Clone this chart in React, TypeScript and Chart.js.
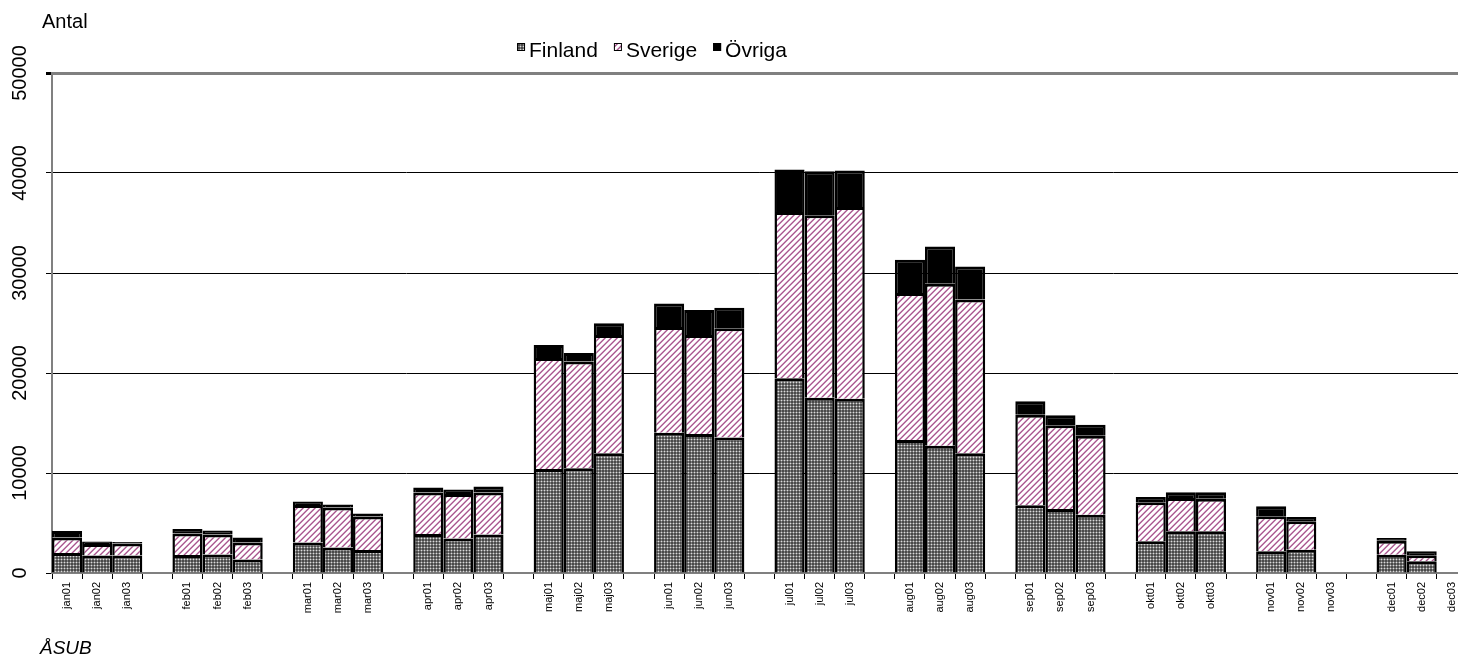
import React, { useEffect, useRef } from "react";
import { Chart, registerables } from "chart.js";

Chart.register(...registerables);

const categories = [
  "jan01", "jan02", "jan03", "",
  "feb01", "feb02", "feb03", "",
  "mar01", "mar02", "mar03", "",
  "apr01", "apr02", "apr03", "",
  "maj01", "maj02", "maj03", "",
  "jun01", "jun02", "jun03", "",
  "jul01", "jul02", "jul03", "",
  "aug01", "aug02", "aug03", "",
  "sep01", "sep02", "sep03", "",
  "okt01", "okt02", "okt03", "",
  "nov01", "nov02", "nov03", "",
  "dec01", "dec02", "dec03",
];

const finland = [
  2000, 1750, 1750, null,
  1800, 1850, 1350, null,
  3050, 2550, 2300, null,
  3900, 3450, 3850, null,
  10390, 10480, 11970, null,
  14020, 13890, 13560, null,
  19470, 17530, 17430, null,
  13290, 12730, 11970, null,
  6770, 6400, 5830, null,
  3170, 4170, 4170, null,
  2170, 2330, null, null,
  1830, 1170, null,
];

const sverige = [
  1550, 1150, 1200, null,
  2150, 2000, 1700, null,
  3750, 4000, 3350, null,
  4150, 4450, 4200, null,
  11110, 10680, 11840, null,
  10580, 9920, 10910, null,
  16640, 18250, 19170, null,
  14710, 16200, 15380, null,
  9060, 8370, 7900, null,
  3900, 3330, 3260, null,
  3500, 2840, null, null,
  1400, 600, null,
];

const ovriga = [
  650, 250, 150, null,
  450, 400, 500, null,
  350, 300, 300, null,
  500, 450, 600, null,
  1290, 830, 1160, null,
  2350, 2480, 2050, null,
  4230, 4400, 3640, null,
  3320, 3710, 3300, null,
  1340, 1000, 1100, null,
  530, 570, 640, null,
  1000, 430, null, null,
  270, 400, null,
];

const seriesNames = ["Finland", "Sverige", "Övriga"];
const yTicks = [0, 10000, 20000, 30000, 40000, 50000];
const yTitle = "Antal";
const sourceText = "ÅSUB";

const FONT = "Arial, 'Liberation Sans', sans-serif";

function makeFinlandPattern(): CanvasPattern | string {
  const c = document.createElement("canvas");
  c.width = 3;
  c.height = 3;
  const g = c.getContext("2d");
  if (!g) return "#666666";
  g.fillStyle = "#4a4a4a";
  g.fillRect(0, 0, 3, 3);
  g.fillStyle = "#7e7e7e";
  g.fillRect(1, 0, 1, 1);
  g.fillRect(0, 1, 1, 1);
  g.fillRect(2, 1, 1, 1);
  g.fillRect(1, 2, 1, 1);
  g.fillStyle = "#dadada";
  g.fillRect(1, 1, 1, 1);
  return g.createPattern(c, "repeat") || "#666666";
}

function makeSverigePattern(): CanvasPattern | string {
  const n = 6;
  const c = document.createElement("canvas");
  c.width = n;
  c.height = n;
  const g = c.getContext("2d");
  if (!g) return "#c890b4";
  for (let x = 0; x < n; x++) {
    for (let y = 0; y < n; y++) {
      const d = (x + y) % n;
      let col = "#ffffff";
      if (d === 0) col = "#a8588f";
      else if (d === 1) col = "#c993b8";
      else if (d === n - 1) col = "#e4c6da";
      g.fillStyle = col;
      g.fillRect(x, y, 1, 1);
    }
  }
  return g.createPattern(c, "repeat") || "#c890b4";
}

export default function App() {
  const ref = useRef<HTMLCanvasElement | null>(null);

  useEffect(() => {
    const canvas = ref.current;
    if (!canvas) return;
    const finPat = makeFinlandPattern();
    const svePat = makeSverigePattern();
    const fills = [finPat, svePat, "#000000"];

    const textPlugin = {
      id: "textPlugin",
      afterDraw(chart: any) {
        const ctx = chart.ctx as CanvasRenderingContext2D;
        const ys = chart.scales.y;
        ctx.save();
        ctx.fillStyle = "#000";
        ctx.font = `20px ${FONT}`;
        ctx.textAlign = "center";
        ctx.textBaseline = "alphabetic";
        ys.ticks.forEach((t: any) => {
          const py = ys.getPixelForValue(t.value);
          ctx.save();
          ctx.translate(26, py);
          ctx.rotate(-Math.PI / 2);
          ctx.fillText(String(t.value), 0, 0);
          ctx.restore();
        });
        ctx.textAlign = "left";
        ctx.fillText(yTitle, 42, 28);
        ctx.font = `italic 19px ${FONT}`;
        ctx.fillText(sourceText, 40, 654);
        ctx.font = `21px ${FONT}`;
        const box = 8;
        const gapBox = 4;
        const gapItem = 16;
        const widths = seriesNames.map((s) => ctx.measureText(s).width);
        const total =
          widths.reduce((a, b) => a + b, 0) +
          seriesNames.length * (box + gapBox) +
          (seriesNames.length - 1) * gapItem;
        let x = 652 - total / 2;
        const boxTop = 43;
        seriesNames.forEach((s, i) => {
          ctx.fillStyle = fills[i] as any;
          ctx.fillRect(x, boxTop, box, box);
          ctx.strokeStyle = "#000";
          ctx.lineWidth = 1;
          ctx.strokeRect(x + 0.5, boxTop + 0.5, box - 1, box - 1);
          ctx.fillStyle = "#000";
          ctx.fillText(s, x + box + gapBox, 56.5);
          x += box + gapBox + widths[i] + gapItem;
        });
        ctx.restore();
      },
    };

    const dataSets = [finland, sverige, ovriga];
    const chart = new Chart(canvas, {
      type: "bar",
      data: {
        labels: categories,
        datasets: seriesNames.map((name, i) => ({
          label: name,
          data: dataSets[i] as any,
          backgroundColor: fills[i] as any,
          borderColor: "#000000",
          borderWidth: { top: 3, left: 2.5, right: 2.5, bottom: 0 } as any,
          borderSkipped: "start" as any,
          inflateAmount: 0,
          barPercentage: 1,
          categoryPercentage: 1,
        })),
      },
      options: {
        responsive: false,
        animation: false,
        devicePixelRatio: 1,
        layout: { padding: { left: 0, right: 1, top: 73, bottom: 0 } },
        plugins: {
          legend: { display: false },
          tooltip: { enabled: false },
          title: { display: false },
        },
        scales: {
          x: {
            stacked: true,
            grid: {
              display: true,
              drawOnChartArea: false,
              drawTicks: true,
              tickLength: 6,
              tickColor: "#000000",
              offset: true,
            },
            border: { display: true, color: "#808080", width: 2 },
            ticks: {
              autoSkip: false,
              minRotation: 90,
              maxRotation: 90,
              padding: 3,
              color: "#000000",
              font: { family: FONT, size: 11 },
            },
            afterFit(scale: any) {
              scale.height = 83;
            },
          },
          y: {
            stacked: true,
            min: 0,
            max: 50000,
            afterBuildTicks(scale: any) {
              scale.ticks = yTicks.map((v) => ({ value: v }));
            },
            grid: {
              color: (c: any) =>
                c.tick && c.tick.value === 50000 ? "#808080" : "#000000",
              lineWidth: (c: any) =>
                c.tick && c.tick.value === 50000 ? 3 : 1,
              tickLength: 6,
              tickColor: "#000000",
            },
            border: { display: true, color: "#808080", width: 2 },
            ticks: { display: false },
            afterFit(scale: any) {
              scale.width = 52;
            },
          },
        },
      },
      plugins: [textPlugin],
    });
    return () => chart.destroy();
  }, []);

  return (
    <div
      style={{
        position: "absolute",
        left: 0,
        top: 0,
        width: 1458,
        height: 656,
        overflow: "hidden",
        background: "#ffffff",
      }}
    >
      <canvas ref={ref} width={1468} height={656} style={{ display: "block" }} />
    </div>
  );
}
